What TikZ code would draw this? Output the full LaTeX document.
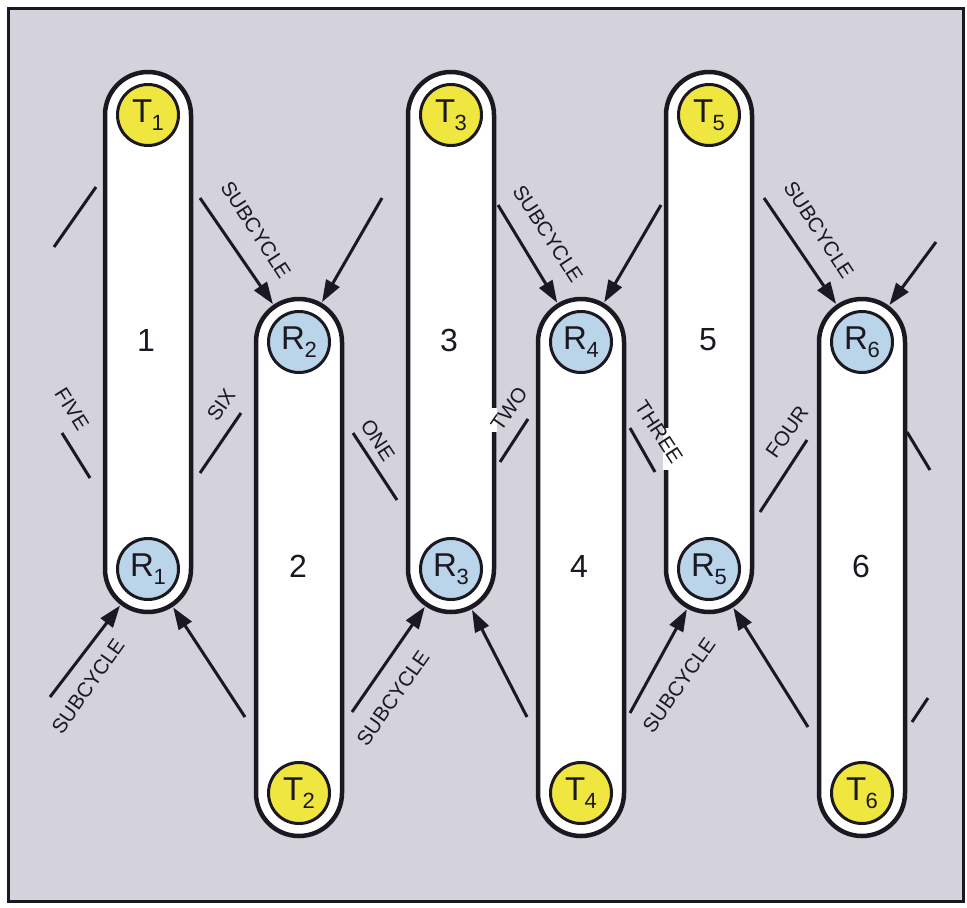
\documentclass[tikz,border=0pt]{standalone}
\usepackage{fontspec}
\setmainfont{Liberation Sans}
\usetikzlibrary{arrows.meta}
\definecolor{bgc}{RGB}{212,210,219}
\definecolor{linec}{RGB}{28,24,34}
\definecolor{tyel}{RGB}{240,230,64}
\definecolor{rblue}{RGB}{186,213,233}
\newcommand{\lab}[2]{#1\kern-0.5pt\raisebox{-8pt}{\fontsize{22}{22}\selectfont #2}}
\begin{document}
\begin{tikzpicture}[x=1pt,y=-1pt,
  pill/.style={draw=linec, line width=4.5pt, fill=white, rounded corners=43pt},
  tcirc/.style={circle, draw=linec, line width=3pt, fill=tyel, minimum size=61pt, inner sep=0pt, text=linec, font=\fontsize{33}{33}\selectfont},
  rcirc/.style={tcirc, fill=rblue},
  num/.style={font=\fontsize{32}{32}\selectfont, text=linec, inner sep=0pt},
  lbl/.style={font=\fontsize{20.5}{20.5}\selectfont, text=linec, inner sep=0pt},
  conn/.style={draw=linec, line width=3pt},
  arr/.style={conn, -{Triangle[length=22pt,width=15pt]}, shorten >=46pt},
  gap/.style={draw=white, line width=5.5pt},
]
\fill[white] (0,0) rectangle (967,908);
\useasboundingbox (0,0) rectangle (967,908);
\draw[line width=3pt, draw=linec, fill=bgc] (8,8) rectangle (963,901);

% pills
\draw[pill] (105,72) rectangle (191,612);
\draw[pill] (256,299) rectangle (342,836);
\draw[pill] (408,72) rectangle (494,612);
\draw[pill] (538,299) rectangle (624,836);
\draw[pill] (666,72) rectangle (752,612);
\draw[pill] (819,299) rectangle (905,836);

% knock-outs of the borders under TWO and THREE
\draw[gap] (494,408) -- (494,432);
\draw[gap] (666,428) -- (666,470);

% circles
\node[tcirc] (T1) at (148,115) {\lab{T}{1}};
\node[rcirc] (R1) at (148,569) {\lab{R}{1}};
\node[rcirc] (R2) at (299,342) {\lab{R}{2}};
\node[tcirc] (T2) at (299,793) {\lab{T}{2}};
\node[tcirc] (T3) at (451,115) {\lab{T}{3}};
\node[rcirc] (R3) at (451,569) {\lab{R}{3}};
\node[rcirc] (R4) at (581,342) {\lab{R}{4}};
\node[tcirc] (T4) at (581,793) {\lab{T}{4}};
\node[tcirc] (T5) at (709,115) {\lab{T}{5}};
\node[rcirc] (R5) at (709,569) {\lab{R}{5}};
\node[rcirc] (R6) at (862,342) {\lab{R}{6}};
\node[tcirc] (T6) at (862,793) {\lab{T}{6}};

% numbers
\node[num] (n1) at (146,340) {1};
\node[num] (n2) at (298,566) {2};
\node[num] (n3) at (449,340) {3};
\node[num] (n4) at (579,566) {4};
\node[num] (n5) at (708,340) {5};
\node[num] (n6) at (861,566) {6};

% arrow start points
\coordinate (a2L) at (200,198);
\coordinate (a2R) at (382,198);
\coordinate (a4L) at (498,205);
\coordinate (a4R) at (661,205);
\coordinate (a6L) at (764,198);
\coordinate (a6R) at (936,242);
\coordinate (b1L) at (50,697);
\coordinate (b1R) at (245,717);
\coordinate (b3L) at (352,712);
\coordinate (b3R) at (527,717);
\coordinate (b5L) at (630,713);
\coordinate (b5R) at (808,727);

\draw[arr] (a2L) -- (R2.center);
\draw[arr] (a2R) -- (R2.center);
\draw[arr] (a4L) -- (R4.center);
\draw[arr] (a4R) -- (R4.center);
\draw[arr] (a6L) -- (R6.center);
\draw[arr] (a6R) -- (R6.center);
\draw[arr] (b1L) -- (R1.center);
\draw[arr] (b1R) -- (R1.center);
\draw[arr] (b3L) -- (R3.center);
\draw[arr] (b3R) -- (R3.center);
\draw[arr] (b5L) -- (R5.center);
\draw[arr] (b5R) -- (R5.center);

% plain segments
\coordinate (l0a) at (54,247);   \coordinate (l0b) at (96,187);
\coordinate (l5a) at (62,433);   \coordinate (l5b) at (90,478);
\coordinate (l6a) at (200,473);  \coordinate (l6b) at (241,413);
\coordinate (l1a) at (353,433);  \coordinate (l1b) at (397,500);
\coordinate (l2a) at (500,462);  \coordinate (l2b) at (528,419);
\coordinate (l3a) at (630,428);  \coordinate (l3b) at (655,472);
\coordinate (l4a) at (760,512);  \coordinate (l4b) at (807,440);
\coordinate (l7a) at (907,432);  \coordinate (l7b) at (930,470);
\coordinate (l8a) at (912,722);  \coordinate (l8b) at (928,698);
\draw[conn] (l0a) -- (l0b);
\draw[conn] (l5a) -- (l5b);
\draw[conn] (l6a) -- (l6b);
\draw[conn] (l1a) -- (l1b);
\draw[conn] (l2a) -- (l2b);
\draw[conn] (l3a) -- (l3b);
\draw[conn] (l4a) -- (l4b);
\draw[conn] (l7a) -- (l7b);
\draw[conn] (l8a) -- (l8b);

% labels
\node[lbl, rotate=-58] (tFive) at (72,409) {FIVE};
\node[lbl, rotate=55] (tSix) at (221,405) {SIX};
\node[lbl, rotate=-57] (tOne) at (378,440) {ONE};
\node[lbl, rotate=55] (tTwo) at (509,409) {TWO};
\node[lbl, rotate=-57] (tThree) at (659,432) {THREE};
\node[lbl, rotate=55] (tFour) at (787,432) {FOUR};
\node[lbl, rotate=-57] (s2) at (256,230) {SUBCYCLE};
\node[lbl, rotate=-57] (s4) at (548,234) {SUBCYCLE};
\node[lbl, rotate=-57] (s6) at (819,230) {SUBCYCLE};
\node[lbl, rotate=55] (s1) at (88,686) {SUBCYCLE};
\node[lbl, rotate=55] (s3) at (393,698) {SUBCYCLE};
\node[lbl, rotate=55] (s5) at (679,685) {SUBCYCLE};
\end{tikzpicture}
\end{document}
